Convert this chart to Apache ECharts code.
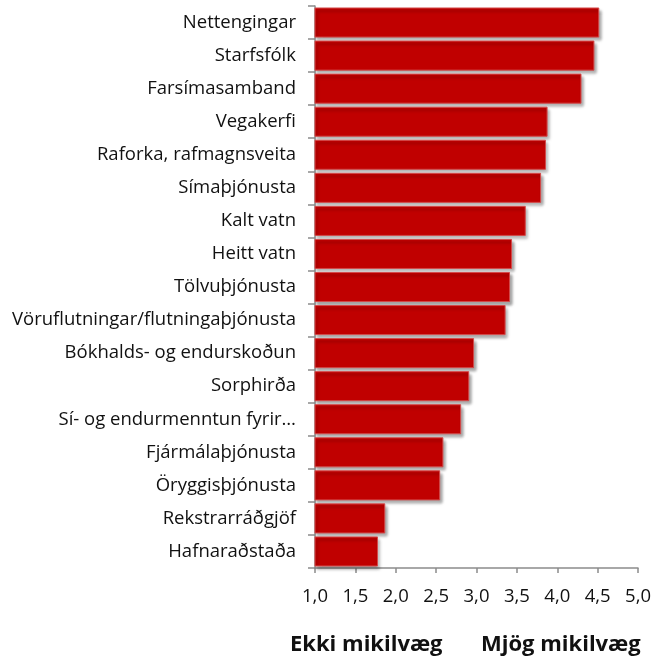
<!DOCTYPE html>
<html>
<head>
<meta charset="utf-8">
<script src="https://cdn.jsdelivr.net/npm/echarts@6/dist/echarts.min.js"></script>
<style>
  html, body { margin: 0; padding: 0; background: #fff; }
  #chart { width: 654px; height: 659px; }
</style>
</head>
<body>
<div id="chart"></div>
<script>
const categories = [
  'Nettengingar',
  'Starfsfólk',
  'Farsímasamband',
  'Vegakerfi',
  'Raforka, rafmagnsveita',
  'Símaþjónusta',
  'Kalt vatn',
  'Heitt vatn',
  'Tölvuþjónusta',
  'Vöruflutningar/flutningaþjónusta',
  'Bókhalds- og endurskoðun',
  'Sorphirða',
  'Sí- og endurmenntun fyrir…',
  'Fjármálaþjónusta',
  'Öryggisþjónusta',
  'Rekstrarráðgjöf',
  'Hafnaraðstaða'
]
const values = [4.52, 4.46, 4.30, 3.88, 3.86, 3.80, 3.61, 3.44, 3.415, 3.36, 2.97, 2.91, 2.81, 2.59, 2.55, 1.87, 1.78]
const scaleLabels = ['Ekki mikilvæg', 'Mjög mikilvæg']

const fontFamily = '"Open Sans", sans-serif'
const chart = echarts.init(document.getElementById('chart'))

chart.setOption({
  animation: false,
  grid: { left: 315, right: 12, top: 6, bottom: 91 },
  xAxis: {
    type: 'value',
    min: 1,
    max: 5,
    interval: 0.5,
    axisLine: { show: true, lineStyle: { color: '#8c8c8c', width: 1.5 } },
    axisTick: { show: true, length: 5, lineStyle: { color: '#8c8c8c', width: 1.5 } },
    splitLine: { show: false },
    axisLabel: {
      margin: 19,
      fontSize: 18.5,
      color: '#111',
      fontFamily,
      formatter: v => v.toFixed(1).replace('.', ',')
    }
  },
  yAxis: {
    type: 'category',
    inverse: true,
    data: categories,
    axisLine: { show: true, lineStyle: { color: '#8c8c8c', width: 1.5 } },
    axisTick: { show: true, length: 7, lineStyle: { color: '#8c8c8c', width: 1.5 } },
    axisLabel: { margin: 19, fontSize: 18.5, color: '#111', fontFamily }
  },
  series: [{
    type: 'bar',
    data: values,
    barCategoryGap: '9%',
    itemStyle: {
      color: '#c00000',
      borderColor: '#d44a4a',
      borderWidth: 1,
      shadowColor: 'rgba(0, 0, 0, 0.35)',
      shadowBlur: 3,
      shadowOffsetX: 2,
      shadowOffsetY: 3
    }
  }],
  graphic: [
    {
      type: 'text',
      left: 290,
      top: 634,
      style: { text: scaleLabels[0], font: 'bold 22px "Open Sans", sans-serif', fill: '#111' }
    },
    {
      type: 'text',
      left: 481,
      top: 634,
      style: { text: scaleLabels[1], font: 'bold 22px "Open Sans", sans-serif', fill: '#111' }
    }
  ]
})
</script>
</body>
</html>
